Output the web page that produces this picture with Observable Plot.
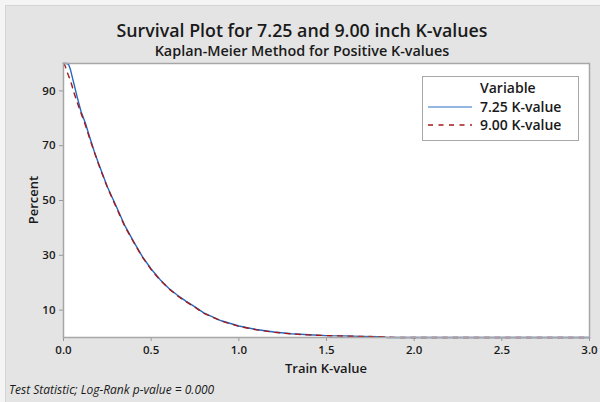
<!DOCTYPE html>
<html>
<head>
<meta charset="utf-8">
<script src="https://cdn.jsdelivr.net/npm/d3@7"></script>
<script src="https://cdn.jsdelivr.net/npm/@observablehq/plot@0.6"></script>
<style>
  html, body { margin: 0; padding: 0; background: #f4f4f4; }
  #wrap { position: relative; width: 600px; height: 402px; overflow: hidden; font-family: "Open Sans", "Noto Sans", sans-serif; color: #1a1a1a; }
  #panel { position: absolute; left: 5px; top: 5px; width: 600px; height: 400px; background: #e4e4e4; border-left: 1px solid #d4d4d4; border-top: 1px solid #d4d4d4; }
  #chart { position: absolute; left: 0; top: 0; }
  .t { position: absolute; white-space: nowrap; }
  #title { left: 0; width: 604px; text-align: center; top: 18px; font-size: 17.8px; font-weight: 600; line-height: 24px; }
  #subtitle { left: 0; width: 604px; text-align: center; top: 41px; font-size: 14.4px; font-weight: 600; line-height: 20px; }
  #caption { left: 9px; top: 382px; font-size: 12px; font-style: italic; line-height: 16px; }
  #xlabel { left: 226px; width: 200px; text-align: center; top: 359px; font-size: 13px; font-weight: 600; line-height: 18px; }
  #ylabel { left: 33px; top: 200px; font-size: 13px; font-weight: 600; line-height: 18px; transform: translate(-50%, -50%) rotate(-90deg); }
  #legend { position: absolute; left: 422px; top: 76px; width: 157px; height: 65px; background: #fff; border: 1px solid #a8a8a8; box-sizing: border-box; font-size: 14px; font-weight: 600; }
  #legend .row { position: absolute; left: 0; display: flex; align-items: center; line-height: 18px; }
</style>
</head>
<body>
<div id="wrap">
  <div id="panel"></div>
  <div id="chart"></div>
  <div class="t" id="title"></div>
  <div class="t" id="subtitle"></div>
  <div class="t" id="xlabel"></div>
  <div class="t" id="ylabel"></div>
  <div class="t" id="caption"></div>
  <div id="legend"></div>
</div>
<script>
// ---- Data ----
const titleText = "Survival Plot for 7.25 and 9.00 inch K-values";
const subtitleText = "Kaplan-Meier Method for Positive K-values";
const captionText = "Test Statistic; Log-Rank p-value = 0.000";
const xLabel = "Train K-value";
const yLabel = "Percent";
const legendTitle = "Variable";
const seriesNames = ["7.25 K-value", "9.00 K-value"];
const seriesColors = ["#2568c0", "#a31a1a"];
const xTicks = [0, 0.5, 1.0, 1.5, 2.0, 2.5, 3.0];
const yTicks = [10, 30, 50, 70, 90];

const kValues = [0, 0.01, 0.02, 0.03, 0.04, 0.06, 0.08, 0.10, 0.125, 0.15, 0.175, 0.20, 0.25, 0.30, 0.35, 0.40, 0.45, 0.50, 0.55, 0.60, 0.65, 0.70, 0.75, 0.80, 0.90, 1.00, 1.10, 1.20, 1.30, 1.40, 1.50, 1.60, 1.70, 1.80, 1.85, 1.90, 3.00];
const surv725 = [100, 100, 100, 99.5, 97.7, 92.5, 87.3, 82.5, 78.2, 73, 68, 63.5, 55, 48, 40.8, 35, 29.5, 25, 21.2, 18, 15.4, 13.2, 11.2, 9, 6.1, 4.2, 2.9, 2.0, 1.35, 1.0, 0.7, 0.6, 0.4, 0.3, 0, 0, 0];
const surv900 = [100, 99, 97, 95.3, 93.8, 89.3, 85.5, 81.8, 77.5, 72.5, 67.8, 63.2, 54.8, 47.6, 40.5, 34.8, 29.3, 24.8, 21, 17.8, 15.2, 13.0, 11.0, 8.8, 6.0, 4.1, 2.8, 1.9, 1.3, 0.95, 0.7, 0.55, 0.4, 0.3, 0.2, 0, 0];

const rows = [
  ...kValues.map((k, i) => ({k, p: surv725[i], s: seriesNames[0]})),
  ...kValues.map((k, i) => ({k, p: surv900[i], s: seriesNames[1]}))
];

const chart = Plot.plot({
  width: 600,
  height: 402,
  marginLeft: 63,
  marginRight: 11,
  marginTop: 63,
  marginBottom: 65,
  style: {background: "transparent", fontFamily: "Open Sans, Noto Sans, sans-serif", fontSize: "11.5px", fontWeight: 600, color: "#1a1a1a"},
  x: {domain: [0, 3]},
  y: {domain: [0, 100]},
  color: {domain: seriesNames, range: seriesColors},
  marks: [
    Plot.frame({fill: "white", stroke: "none"}),
    Plot.axisX({ticks: xTicks, tickFormat: d3.format(".1f"), tickSize: 4, tickPadding: 4, stroke: "#999", label: null, fontSize: 11.5}),
    Plot.axisY({ticks: yTicks, tickSize: 4, tickPadding: 4, stroke: "#999", label: null, fontSize: 11.5}),
    Plot.line(rows.filter(d => d.s === seriesNames[0]), {x: "k", y: "p", stroke: "s", strokeWidth: 1.4}),
    Plot.line(rows.filter(d => d.s === seriesNames[1]), {x: "k", y: "p", stroke: "s", strokeWidth: 1.4, strokeDasharray: "5,5.5"}),
    Plot.frame({stroke: "#a6a6a6", strokeWidth: 1.5})
  ]
});
document.getElementById("chart").appendChild(chart);

document.getElementById("title").textContent = titleText;
document.getElementById("subtitle").textContent = subtitleText;
document.getElementById("caption").textContent = captionText;
document.getElementById("xlabel").textContent = xLabel;
document.getElementById("ylabel").textContent = yLabel;

const legend = document.getElementById("legend");
const head = document.createElement("div");
head.className = "row";
head.style.top = "2px";
head.style.left = "57px";
head.textContent = legendTitle;
legend.appendChild(head);
seriesNames.forEach((name, i) => {
  const r = document.createElement("div");
  r.className = "row";
  r.style.top = (21 + i * 18) + "px";
  r.style.left = "4px";
  const dash = i === 0 ? "" : 'stroke-dasharray="5,5.5"';
  const col = i === 0 ? "#6f9fd6" : seriesColors[1];
  r.innerHTML = `<svg width="53" height="10"><line x1="1" y1="5" x2="45" y2="5" stroke="${col}" stroke-width="1.5" ${dash}/></svg>`;
  const s = document.createElement("span");
  s.textContent = name;
  r.appendChild(s);
  legend.appendChild(r);
});
</script>
</body>
</html>
